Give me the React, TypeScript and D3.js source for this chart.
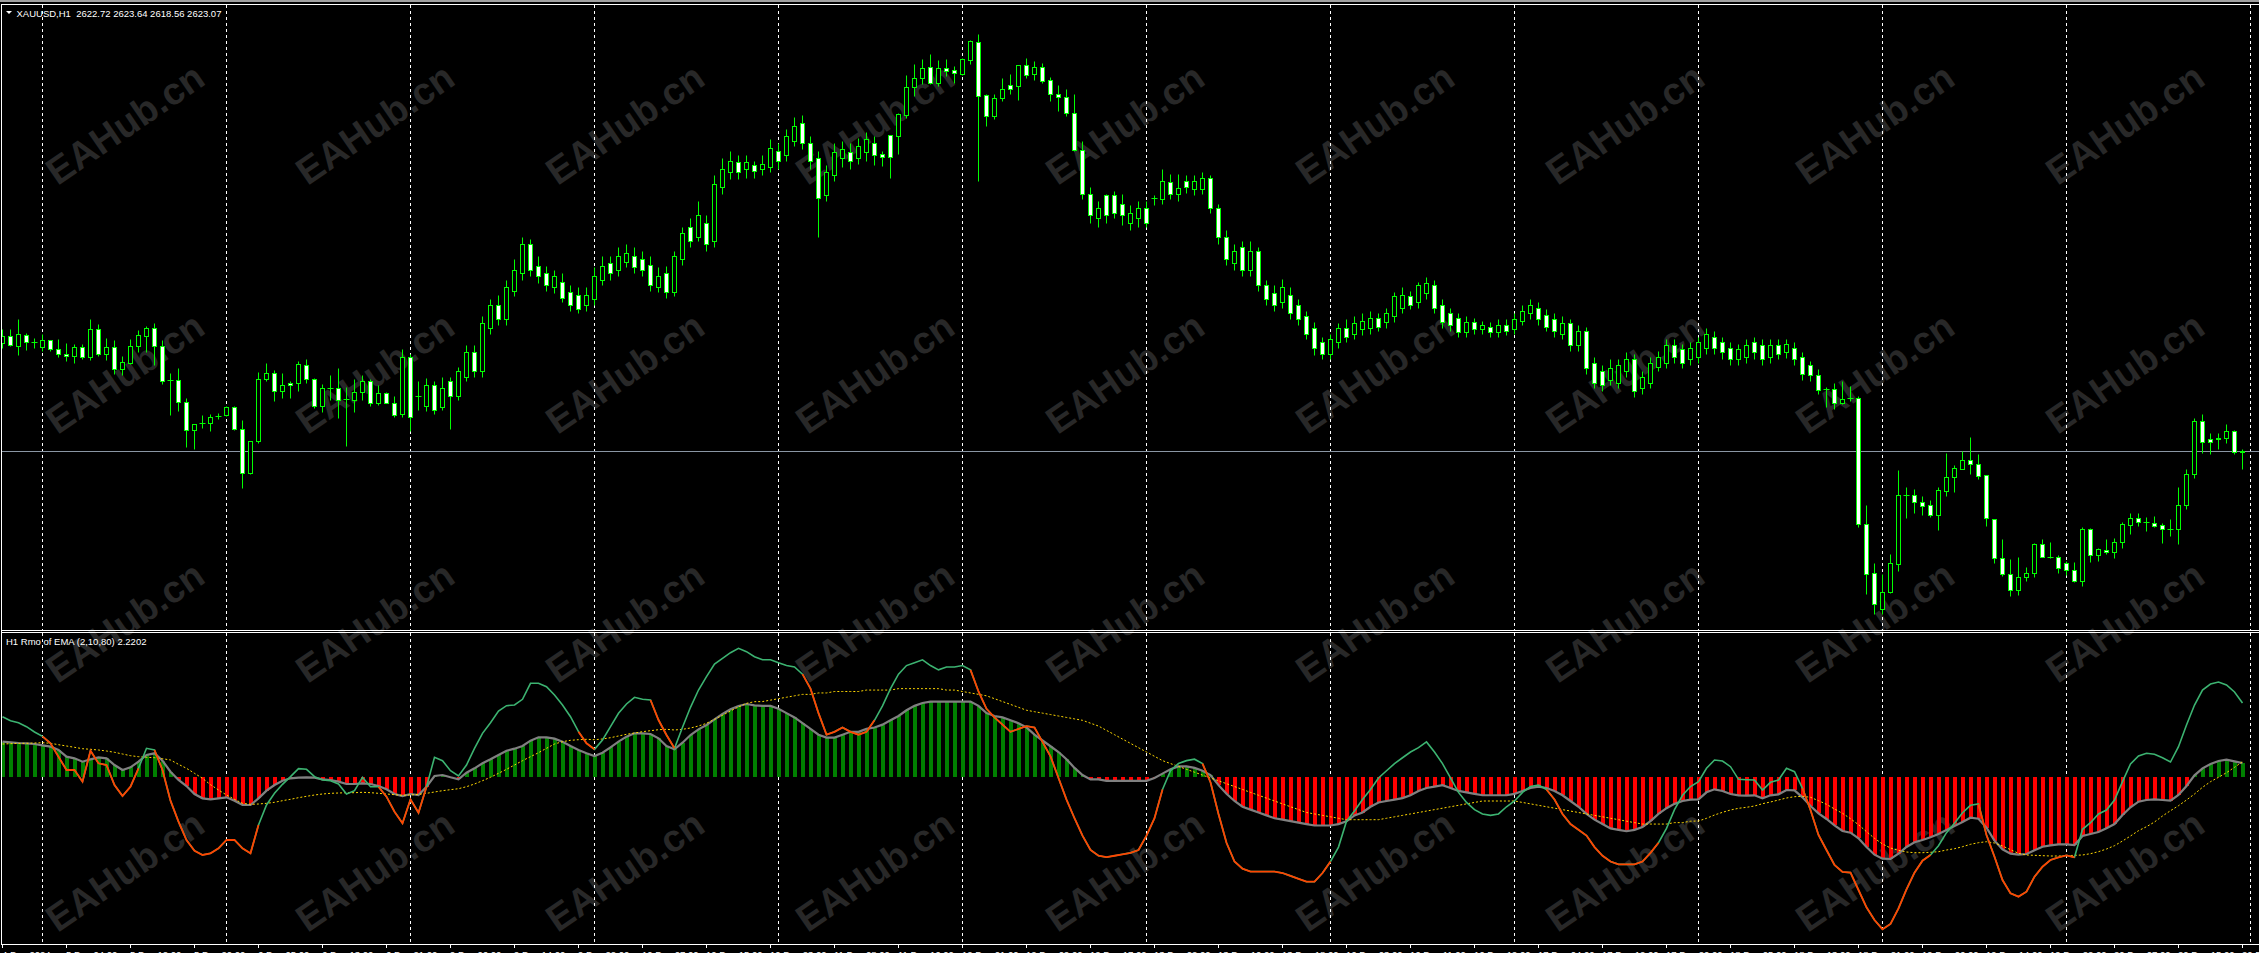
import React from "react";
import * as d3 from "d3";

const W = 2259;
const H = 953;

// ---- XAUUSD H1 candles (bar 0 = 4 Dec 2024 19:00) ----
const barOpen = [
  2650.1, 2651.7, 2649.2, 2652.1, 2650.3, 2649.0, 2650.8, 2648.6, 2647.3, 2646.7,
  2649.1, 2646.5, 2653.6, 2647.3, 2649.1, 2643.6, 2645.1, 2649.2, 2651.7, 2653.8,
  2649.3, 2640.7, 2640.7, 2635.3, 2628.2, 2630.1, 2629.9, 2631.7, 2631.9, 2634.1,
  2628.6, 2617.6, 2625.5, 2640.9, 2642.6, 2638.0, 2640.1, 2640.0, 2644.6, 2641.1,
  2634.2, 2638.8, 2638.8, 2635.9, 2635.7, 2637.8, 2640.6, 2635.1, 2637.6, 2635.1,
  2632.2, 2646.6, 2636.8, 2634.3, 2639.4, 2634.0, 2640.4, 2636.8, 2641.5, 2647.7,
  2643.0, 2653.8, 2659.5, 2655.9, 2663.1, 2667.5, 2674.7, 2669.3, 2667.5, 2663.9,
  2665.3, 2662.8, 2662.1, 2659.5, 2661.0, 2665.7, 2670.0, 2668.2, 2670.3, 2671.8,
  2671.1, 2669.6, 2663.9, 2667.5, 2662.8, 2671.1, 2679.0, 2676.5, 2680.1, 2675.4,
  2689.1, 2692.7, 2695.2, 2693.4, 2694.5, 2693.4, 2694.1, 2698.1, 2697.0, 2700.6,
  2704.9, 2699.9, 2696.3, 2686.9, 2691.9, 2696.3, 2697.7, 2696.3, 2697.7, 2699.9,
  2697.2, 2701.9, 2701.7, 2707.0, 2714.1, 2716.3, 2719.1, 2715.1, 2718.8, 2718.2,
  2717.2, 2720.7, 2725.3, 2711.9, 2706.7, 2711.2, 2714.4, 2714.2, 2719.4, 2717.2,
  2719.1, 2715.7, 2712.3, 2711.6, 2707.6, 2698.2, 2687.3, 2681.2, 2687.1, 2687.1,
  2684.7, 2680.1, 2681.2, 2683.7, 2686.2, 2685.9, 2690.2, 2687.2, 2690.5, 2688.4,
  2688.4, 2691.2, 2683.7, 2676.5, 2670.0, 2673.9, 2668.2, 2672.9, 2664.6, 2662.4,
  2660.3, 2662.1, 2659.5, 2656.7, 2653.8, 2650.2, 2647.3, 2650.2, 2653.8, 2652.3,
  2653.4, 2653.8, 2656.3, 2655.2, 2656.7, 2658.8, 2661.7, 2660.3, 2662.4, 2664.6,
  2659.5, 2657.4, 2656.3, 2652.7, 2655.2, 2653.4, 2654.1, 2652.7, 2654.5, 2653.4,
  2655.6, 2657.4, 2658.8, 2657.0, 2655.9, 2652.3, 2654.9, 2649.5, 2653.1, 2645.1,
  2643.0, 2640.8, 2640.1, 2643.0, 2645.9, 2638.7, 2640.1, 2644.0, 2645.1, 2649.5,
  2648.4, 2645.9, 2646.6, 2648.7, 2651.6, 2650.2, 2648.7, 2645.9, 2646.6, 2650.2,
  2649.5, 2646.6, 2649.5, 2647.7, 2648.7, 2646.6, 2644.5, 2642.0, 2638.4, 2638.6,
  2635.1, 2636.3, 2636.3, 2604.7, 2592.6, 2583.6, 2587.7, 2594.8, 2612.0, 2612.0,
  2610.3, 2609.4, 2607.0, 2613.0, 2616.5, 2618.6, 2620.7, 2619.7, 2616.9, 2606.1,
  2596.3, 2592.3, 2588.2, 2591.6, 2592.6, 2599.7, 2596.5, 2596.6, 2594.9, 2593.2,
  2590.5, 2603.6, 2597.0, 2598.2, 2597.7, 2600.2, 2604.5, 2606.3, 2605.2, 2605.1,
  2604.4, 2603.6, 2603.6, 2609.5, 2617.3, 2630.5, 2625.9, 2625.9, 2626.3, 2628.0,
  2622.72,
];
const barHigh = [
  2653.4, 2653.4, 2655.9, 2652.6, 2651.3, 2652.2, 2650.8, 2651.1, 2650.1, 2649.7,
  2649.8, 2655.9, 2654.7, 2651.3, 2650.7, 2646.7, 2650.9, 2653.2, 2654.2, 2654.9,
  2650.7, 2642.4, 2643.7, 2636.2, 2629.8, 2631.9, 2632.2, 2632.4, 2634.2, 2634.2,
  2630.7, 2625.6, 2642.8, 2644.9, 2643.2, 2642.6, 2640.5, 2645.5, 2645.9, 2641.3,
  2639.7, 2641.9, 2643.8, 2639.1, 2640.9, 2641.9, 2640.9, 2639.4, 2637.8, 2636.7,
  2648.4, 2647.3, 2640.4, 2641.2, 2640.4, 2641.5, 2641.5, 2644.0, 2649.5, 2649.5,
  2656.7, 2661.0, 2662.1, 2665.7, 2671.1, 2676.5, 2676.1, 2671.8, 2669.3, 2668.2,
  2667.5, 2664.6, 2663.9, 2663.9, 2668.9, 2671.8, 2671.8, 2673.9, 2674.7, 2673.9,
  2672.9, 2671.8, 2668.9, 2669.3, 2672.9, 2679.0, 2681.2, 2685.5, 2681.9, 2691.9,
  2696.3, 2698.1, 2697.0, 2697.0, 2695.6, 2697.0, 2701.0, 2699.9, 2703.5, 2706.4,
  2707.1, 2701.7, 2698.1, 2694.5, 2699.9, 2700.6, 2699.9, 2701.3, 2702.8, 2701.7,
  2698.0, 2701.9, 2707.6, 2716.9, 2719.7, 2720.9, 2722.2, 2720.7, 2721.1, 2719.2,
  2721.3, 2725.7, 2727.2, 2712.3, 2712.3, 2716.2, 2717.2, 2719.4, 2721.3, 2720.5,
  2719.9, 2716.6, 2714.4, 2713.4, 2712.2, 2700.5, 2689.0, 2685.5, 2687.3, 2688.0,
  2687.3, 2684.4, 2685.5, 2685.5, 2687.0, 2693.4, 2692.2, 2692.2, 2691.9, 2691.9,
  2692.7, 2691.9, 2684.7, 2678.3, 2674.7, 2675.4, 2675.4, 2673.9, 2665.7, 2664.6,
  2666.0, 2663.9, 2661.0, 2658.1, 2655.2, 2651.6, 2652.3, 2654.9, 2655.9, 2656.7,
  2657.4, 2658.1, 2657.4, 2658.8, 2662.8, 2663.9, 2663.1, 2665.3, 2666.4, 2665.7,
  2661.0, 2658.8, 2657.4, 2656.7, 2656.3, 2655.6, 2655.2, 2655.9, 2655.9, 2657.4,
  2659.5, 2661.0, 2660.3, 2658.5, 2657.4, 2656.7, 2655.9, 2654.5, 2654.1, 2646.6,
  2644.4, 2645.9, 2645.9, 2647.7, 2647.3, 2643.0, 2646.6, 2648.0, 2650.9, 2650.9,
  2649.8, 2650.2, 2651.6, 2653.8, 2653.1, 2651.6, 2650.2, 2649.8, 2650.9, 2651.6,
  2650.9, 2650.9, 2650.9, 2650.9, 2650.2, 2647.7, 2645.5, 2643.5, 2638.9, 2639.9,
  2640.5, 2639.2, 2636.7, 2609.4, 2594.9, 2592.2, 2597.2, 2618.2, 2614.0, 2613.4,
  2611.7, 2610.7, 2614.1, 2622.6, 2619.4, 2623.0, 2626.6, 2622.2, 2616.9, 2606.1,
  2600.9, 2595.9, 2596.6, 2594.1, 2599.9, 2600.9, 2600.3, 2597.0, 2595.5, 2595.3,
  2604.0, 2603.8, 2598.8, 2600.9, 2601.3, 2605.3, 2607.6, 2607.6, 2606.6, 2606.7,
  2604.9, 2606.1, 2614.1, 2618.4, 2631.3, 2632.2, 2627.6, 2627.6, 2629.7, 2628.2,
  2623.64,
];
const barLow = [
  2648.8, 2649.2, 2646.9, 2648.2, 2648.7, 2648.0, 2648.0, 2646.6, 2645.5, 2645.1,
  2646.1, 2645.7, 2646.7, 2645.7, 2642.3, 2642.0, 2644.7, 2647.7, 2647.7, 2644.4,
  2639.7, 2631.9, 2633.0, 2624.0, 2623.4, 2628.7, 2628.0, 2631.1, 2631.7, 2628.2,
  2613.7, 2617.3, 2624.9, 2640.5, 2635.5, 2636.3, 2636.2, 2638.0, 2640.1, 2633.8,
  2632.7, 2635.7, 2631.3, 2624.2, 2632.7, 2635.7, 2634.2, 2634.4, 2634.9, 2631.5,
  2631.4, 2627.9, 2633.3, 2632.9, 2632.2, 2633.3, 2628.6, 2635.8, 2640.4, 2641.5,
  2641.5, 2652.3, 2654.5, 2654.5, 2661.7, 2665.7, 2666.7, 2664.9, 2663.1, 2662.4,
  2660.3, 2658.1, 2657.4, 2658.1, 2659.5, 2664.6, 2665.7, 2666.7, 2668.9, 2667.5,
  2666.7, 2663.1, 2662.8, 2661.3, 2661.7, 2669.6, 2673.9, 2675.4, 2672.9, 2673.9,
  2687.3, 2690.9, 2690.9, 2691.2, 2691.2, 2691.9, 2692.7, 2693.4, 2695.6, 2699.2,
  2698.4, 2693.4, 2676.5, 2685.5, 2690.5, 2694.1, 2693.4, 2694.8, 2695.6, 2694.5,
  2694.2, 2691.3, 2697.2, 2706.2, 2711.7, 2714.7, 2714.7, 2714.2, 2716.7, 2715.1,
  2716.9, 2719.7, 2690.5, 2704.2, 2705.9, 2710.5, 2712.2, 2710.7, 2716.2, 2715.7,
  2714.9, 2710.5, 2708.0, 2706.7, 2698.0, 2686.0, 2680.1, 2679.0, 2680.1, 2681.2,
  2679.4, 2678.3, 2679.0, 2679.0, 2684.5, 2684.7, 2685.9, 2685.5, 2687.6, 2686.9,
  2687.3, 2682.6, 2674.7, 2669.6, 2668.2, 2666.7, 2666.7, 2663.1, 2659.5, 2658.1,
  2658.8, 2655.9, 2654.5, 2650.9, 2646.9, 2645.9, 2645.9, 2648.7, 2650.2, 2650.9,
  2652.0, 2652.3, 2653.1, 2653.8, 2655.2, 2657.4, 2658.5, 2658.8, 2661.0, 2657.4,
  2653.8, 2653.1, 2651.6, 2651.6, 2652.3, 2652.3, 2651.6, 2651.6, 2652.0, 2652.3,
  2654.5, 2655.9, 2654.5, 2653.1, 2651.6, 2650.9, 2648.0, 2648.0, 2642.3, 2638.7,
  2637.9, 2639.4, 2638.7, 2641.5, 2636.5, 2637.2, 2638.7, 2643.0, 2643.7, 2645.1,
  2643.7, 2644.4, 2645.1, 2647.3, 2647.3, 2645.9, 2644.4, 2644.4, 2645.1, 2645.9,
  2644.4, 2645.1, 2645.9, 2646.2, 2644.4, 2640.8, 2640.5, 2637.2, 2634.1, 2633.4,
  2634.7, 2635.5, 2604.1, 2587.2, 2582.2, 2582.2, 2587.6, 2593.0, 2606.3, 2607.6,
  2606.9, 2606.5, 2603.2, 2611.7, 2612.7, 2618.4, 2617.2, 2616.1, 2604.2, 2595.1,
  2591.7, 2586.7, 2587.0, 2590.5, 2591.5, 2596.6, 2596.2, 2592.4, 2591.9, 2590.2,
  2589.2, 2595.2, 2595.5, 2597.2, 2596.2, 2598.8, 2602.2, 2604.2, 2603.0, 2604.1,
  2600.1, 2601.7, 2599.7, 2608.4, 2616.2, 2622.6, 2622.2, 2623.4, 2625.1, 2622.2,
  2618.56,
];
const barClose = [
  2651.7, 2649.4, 2652.2, 2650.3, 2650.3, 2650.7, 2648.6, 2647.3, 2646.7, 2649.1,
  2646.6, 2653.6, 2647.3, 2649.1, 2643.6, 2645.2, 2649.3, 2651.9, 2653.7, 2649.2,
  2640.5, 2640.7, 2635.2, 2628.2, 2629.8, 2630.1, 2631.6, 2631.7, 2634.1, 2628.4,
  2617.6, 2625.6, 2641.1, 2642.6, 2638.0, 2639.5, 2639.5, 2644.7, 2641.1, 2634.2,
  2638.8, 2638.8, 2635.7, 2635.9, 2637.8, 2640.6, 2635.1, 2637.6, 2635.1, 2632.0,
  2646.6, 2631.4, 2636.8, 2639.4, 2633.3, 2638.7, 2636.8, 2643.0, 2647.7, 2643.0,
  2654.9, 2659.5, 2655.9, 2663.9, 2668.2, 2674.7, 2668.2, 2666.7, 2664.6, 2666.7,
  2661.3, 2659.5, 2658.5, 2662.1, 2666.7, 2669.3, 2667.5, 2671.8, 2672.5, 2668.9,
  2668.2, 2664.6, 2666.7, 2662.8, 2671.8, 2677.5, 2675.4, 2681.9, 2674.7, 2689.8,
  2693.4, 2695.6, 2692.7, 2695.2, 2693.0, 2694.8, 2698.8, 2695.6, 2701.7, 2704.2,
  2699.9, 2695.6, 2686.2, 2692.7, 2697.7, 2698.4, 2695.6, 2699.2, 2701.0, 2697.0,
  2696.6, 2696.6, 2707.2, 2714.1, 2716.3, 2718.8, 2715.1, 2718.8, 2718.0, 2717.6,
  2721.1, 2725.5, 2711.7, 2706.7, 2711.3, 2713.6, 2713.6, 2719.4, 2717.0, 2719.1,
  2715.5, 2712.3, 2711.6, 2707.6, 2698.2, 2687.3, 2681.9, 2683.7, 2681.9, 2682.6,
  2681.9, 2682.6, 2683.7, 2680.1, 2686.2, 2690.5, 2687.3, 2688.8, 2689.1, 2690.5,
  2691.2, 2683.7, 2676.5, 2671.1, 2672.9, 2668.2, 2672.9, 2664.6, 2661.0, 2659.5,
  2663.9, 2657.4, 2655.9, 2652.3, 2648.7, 2647.3, 2650.9, 2653.8, 2651.6, 2654.9,
  2655.6, 2656.3, 2654.1, 2657.4, 2661.7, 2662.1, 2659.5, 2664.6, 2664.9, 2658.8,
  2655.2, 2654.5, 2652.7, 2655.2, 2653.4, 2654.5, 2652.7, 2654.5, 2653.1, 2655.9,
  2658.1, 2659.5, 2655.9, 2654.1, 2653.1, 2654.9, 2649.5, 2653.1, 2643.7, 2640.1,
  2639.4, 2643.7, 2644.4, 2645.9, 2637.9, 2641.5, 2645.1, 2646.6, 2649.5, 2646.6,
  2645.1, 2648.7, 2650.2, 2652.3, 2648.7, 2647.7, 2645.9, 2648.4, 2649.5, 2647.7,
  2645.9, 2649.5, 2647.3, 2649.8, 2645.9, 2642.3, 2642.0, 2638.2, 2638.4, 2635.1,
  2636.1, 2636.3, 2604.7, 2592.3, 2584.8, 2587.8, 2595.1, 2611.9, 2612.0, 2610.3,
  2609.2, 2607.0, 2613.2, 2616.6, 2618.7, 2620.7, 2619.7, 2616.7, 2606.3, 2596.3,
  2592.3, 2588.2, 2591.6, 2592.6, 2599.7, 2596.6, 2596.5, 2593.8, 2593.2, 2590.5,
  2603.6, 2597.0, 2598.4, 2597.7, 2600.3, 2604.8, 2606.3, 2605.2, 2605.2, 2604.2,
  2603.6, 2603.6, 2609.5, 2617.3, 2630.5, 2625.3, 2625.3, 2626.3, 2628.0, 2622.8,
  2623.07,
];

// ---- Rmo of EMA (2,10,80) indicator ----
const rmoHist = [
  5.65, 5.55, 5.44, 5.39, 5.28, 5.07, 4.85, 4.32, 3.25, 2.99,
  2.45, 2.83, 3.15, 2.99, 1.92, 1.12, 1.55, 2.45, 3.52, 3.79,
  2.61, 0.85, -0.48, -1.44, -2.72, -3.41, -3.57, -3.41, -3.25, -3.79,
  -4.48, -4.48, -3.41, -2.19, -1.28, -0.59, -0.21, -0.10, -0.05, -0.10,
  -0.37, -0.48, -0.75, -1.12, -1.12, -1.01, -1.12, -1.44, -1.97, -2.72,
  -3.04, -2.72, -2.88, -1.55, 0.16, 0.32, -0.05, -0.37, 0.69, 1.39,
  2.19, 2.83, 3.52, 4.21, 4.53, 4.96, 5.81, 6.35, 6.35, 6.13,
  5.65, 4.96, 4.32, 3.79, 3.36, 3.89, 4.75, 5.65, 6.45, 6.99,
  6.99, 6.88, 6.19, 4.96, 4.43, 5.49, 6.72, 7.63, 8.32, 9.23,
  10.08, 10.83, 11.36, 11.68, 11.47, 11.38, 11.38, 10.91, 10.22, 9.53,
  8.61, 7.69, 6.77, 6.30, 6.30, 6.77, 7.23, 7.23, 7.69, 7.92,
  8.38, 9.07, 9.76, 10.68, 11.38, 11.84, 12.07, 12.07, 12.07, 12.07,
  12.07, 12.07, 11.38, 10.22, 9.76, 9.53, 9.07, 8.61, 7.92, 6.77,
  5.84, 4.92, 4.00, 2.85, 1.46, 0.31, -0.38, -0.38, -0.61, -0.61,
  -0.61, -0.61, -0.61, -0.61, -0.15, 0.54, 1.23, 1.69, 1.69, 1.46,
  1.00, 0.31, -1.30, -2.69, -3.84, -4.76, -5.22, -5.68, -6.14, -6.60,
  -6.83, -7.07, -7.30, -7.53, -7.76, -7.76, -7.76, -7.53, -7.07, -6.14,
  -5.68, -4.76, -4.07, -3.84, -3.61, -3.38, -2.92, -2.23, -1.76, -1.53,
  -1.30, -1.76, -2.23, -2.46, -2.69, -2.92, -2.92, -2.92, -2.92, -2.69,
  -2.23, -1.76, -1.53, -1.76, -2.23, -2.92, -3.84, -4.76, -5.91, -6.83,
  -7.53, -8.22, -8.45, -8.68, -8.45, -7.99, -7.07, -5.91, -4.99, -4.30,
  -3.84, -3.61, -3.57, -2.45, -1.97, -2.24, -2.72, -2.93, -2.99, -2.93,
  -3.41, -2.93, -2.77, -2.08, -2.13, -3.25, -4.64, -5.81, -6.72, -7.73,
  -8.64, -8.91, -9.81, -11.20, -12.43, -13.07, -13.12, -12.27, -11.20, -10.45,
  -10.08, -9.65, -9.12, -8.48, -7.84, -7.20, -6.51, -6.67, -8.11, -10.19,
  -11.57, -12.27, -12.43, -12.32, -11.73, -11.15, -10.93, -10.77, -10.77, -10.88,
  -9.44, -9.12, -8.80, -8.21, -7.52, -6.08, -4.85, -3.95, -3.68, -3.57,
  -3.68, -3.79, -2.88, -1.44, 0.27, 1.39, 2.08, 2.56, 2.77, 2.51,
  2.2202,
];
const rmoLine = [
  9.65, 9.01, 8.69, 8.05, 7.20, 6.51, 5.39, 3.25, 1.12, 1.12,
  -0.75, 4.21, 2.19, 1.92, -1.28, -3.04, -1.55, 1.39, 4.59, 4.32,
  1.12, -3.79, -7.15, -10.08, -11.79, -12.48, -12.21, -11.41, -10.08, -10.08,
  -11.41, -12.21, -7.68, -4.48, -2.61, -1.17, 0.05, 1.33, 1.23, 0.05,
  -0.48, -0.59, -1.12, -2.72, -2.19, -0.05, -1.55, -1.55, -3.15, -5.55,
  -7.41, -3.57, -5.71, -1.55, 3.15, 2.61, 1.01, 0.16, 1.92, 4.59,
  6.99, 8.69, 10.56, 11.41, 11.52, 12.43, 14.99, 14.99, 14.45, 13.12,
  11.52, 9.65, 7.25, 5.39, 4.43, 5.92, 8.05, 10.19, 11.68, 12.75,
  12.43, 12.32, 9.12, 6.72, 4.59, 7.95, 11.15, 13.92, 16.05, 18.08,
  18.99, 19.89, 20.59, 20.05, 19.25, 18.75, 18.75, 18.29, 17.83, 17.60,
  16.45, 14.14, 10.22, 6.77, 7.23, 7.92, 7.23, 6.77, 7.23, 9.07,
  11.38, 14.14, 16.45, 17.83, 18.29, 18.75, 17.83, 17.14, 17.60, 17.60,
  17.83, 17.14, 13.68, 10.91, 9.53, 8.38, 7.23, 7.69, 8.15, 7.92,
  5.61, 3.31, -0.15, -3.61, -6.60, -9.37, -11.68, -12.60, -12.83, -12.60,
  -12.37, -12.14, -11.68, -9.37, -6.60, -1.99, 1.00, 2.15, 2.62, 2.85,
  2.15, -0.84, -5.91, -10.52, -13.52, -14.67, -15.13, -15.13, -15.13, -15.13,
  -15.36, -15.82, -16.29, -16.75, -16.75, -15.36, -13.52, -11.21, -7.07, -5.45,
  -3.61, -1.99, -0.15, 1.00, 2.15, 3.08, 4.00, 4.69, 5.61, 4.00,
  2.15, -0.15, -2.46, -4.07, -5.22, -5.91, -6.14, -5.91, -4.76, -3.84,
  -2.46, -1.53, -1.30, -1.99, -3.61, -5.91, -7.53, -8.45, -9.37, -11.21,
  -12.60, -13.52, -13.98, -13.98, -13.98, -13.52, -12.14, -10.52, -8.22, -5.22,
  -2.92, -1.53, -0.75, 1.39, 2.72, 2.56, 1.65, -0.37, -0.43, -0.48,
  -2.08, -0.85, -0.48, 1.39, 0.85, -1.81, -5.28, -9.28, -11.68, -14.08,
  -15.20, -15.30, -18.08, -20.85, -22.88, -24.37, -23.52, -21.01, -17.97, -15.30,
  -13.39, -12.48, -10.99, -8.91, -7.41, -5.71, -4.53, -4.32, -9.28, -12.75,
  -16.48, -18.61, -19.14, -18.35, -15.95, -14.35, -13.28, -12.85, -12.53, -12.85,
  -8.37, -7.31, -5.92, -5.28, -3.68, -0.75, 2.08, 3.36, 3.79, 3.63,
  3.09, 2.40, 4.85, 8.32, 11.52, 13.92, 14.88, 15.20, 14.72, 13.60,
  11.84,
];
const rmoSignal = [
  5.28, 5.33, 5.39, 5.39, 5.44, 5.49, 5.39, 5.17, 4.96, 4.75,
  4.53, 4.43, 4.32, 4.16, 3.95, 3.68, 3.41, 3.25, 3.15, 3.09,
  2.93, 2.72, 2.03, 1.39, 0.59, -0.21, -1.23, -2.08, -2.88, -3.57,
  -4.21, -4.37, -4.32, -4.21, -4.05, -3.79, -3.57, -3.31, -3.09, -2.88,
  -2.72, -2.61, -2.56, -2.51, -2.51, -2.45, -2.51, -2.61, -2.72, -2.83,
  -2.93, -2.88, -2.77, -2.61, -2.40, -2.19, -2.03, -1.87, -1.55, -1.12,
  -0.59, -0.05, 0.59, 1.23, 1.92, 2.61, 3.25, 3.89, 4.59, 5.28,
  5.65, 5.87, 5.97, 6.03, 5.97, 6.08, 6.29, 6.56, 6.83, 7.04,
  7.25, 7.41, 7.57, 7.63, 7.52, 7.63, 7.84, 8.16, 8.59, 9.23,
  9.87, 10.56, 11.20, 11.79, 12.05, 12.07, 12.30, 12.53, 12.76, 12.99,
  13.22, 13.22, 13.45, 13.45, 13.68, 13.68, 13.68, 13.68, 13.91, 13.91,
  13.91, 13.91, 14.14, 14.14, 14.14, 14.14, 14.14, 14.14, 13.91, 13.91,
  13.68, 13.45, 13.22, 12.99, 12.53, 12.07, 11.61, 11.15, 10.68, 10.45,
  10.22, 9.99, 9.76, 9.53, 9.30, 9.07, 8.61, 8.15, 7.46, 6.77,
  6.07, 5.38, 4.69, 4.00, 3.31, 2.62, 2.15, 1.69, 1.23, 0.77,
  0.31, -0.15, -0.61, -1.07, -1.53, -1.99, -2.46, -2.92, -3.38, -3.84,
  -4.30, -4.76, -5.22, -5.68, -5.91, -6.14, -6.37, -6.60, -6.83, -6.83,
  -6.83, -6.83, -6.83, -6.60, -6.37, -6.14, -5.91, -5.68, -5.45, -5.22,
  -4.99, -4.76, -4.53, -4.30, -4.07, -3.84, -3.84, -3.84, -3.84, -3.84,
  -4.07, -4.30, -4.53, -4.76, -4.99, -5.22, -5.45, -5.68, -5.91, -6.14,
  -6.37, -6.60, -6.83, -7.07, -7.30, -7.53, -7.53, -7.53, -7.53, -7.30,
  -7.30, -7.07, -7.04, -6.61, -6.08, -5.65, -5.28, -5.01, -4.85, -4.64,
  -4.27, -4.00, -3.68, -3.36, -3.15, -3.09, -3.25, -3.79, -4.37, -5.12,
  -5.81, -6.67, -7.63, -8.75, -9.81, -10.72, -11.36, -11.73, -12.00, -12.11,
  -12.11, -12.05, -11.95, -11.68, -11.47, -11.15, -10.77, -10.51, -10.35, -10.56,
  -11.04, -11.63, -12.21, -12.48, -12.53, -12.59, -12.64, -12.64, -12.59, -12.53,
  -12.48, -12.27, -11.95, -11.52, -10.99, -10.24, -9.44, -8.59, -7.95, -7.20,
  -6.24, -5.39, -4.59, -3.68, -2.72, -1.65, -0.75, -0.05, 0.69, 1.55,
  2.45,
];
// bar ranges where the Rmo line is drawn in its "down" colour
const downRanges = [
  [5, 17], [19, 32], [47, 53], [72, 74], [81, 84], [100, 109],
  [121, 145], [150, 166], [193, 207], [225, 241], [247, 259],
];
// first bar of each trading day (vertical grid)
const dayStarts = [5, 28, 51, 74, 97, 120, 143, 166, 189, 212, 235, 258, 281];
// time axis labels, one every 8 bars
const timeLabels = [
  "4 Dec 2024", "5 Dec 04:00", "5 Dec 12:00", "5 Dec 20:00", "6 Dec 05:00", "6 Dec 13:00",
  "6 Dec 21:00", "9 Dec 06:00", "9 Dec 14:00", "9 Dec 22:00", "10 Dec 07:00", "10 Dec 15:00",
  "10 Dec 23:00", "11 Dec 08:00", "11 Dec 16:00", "12 Dec 01:00", "12 Dec 09:00", "12 Dec 17:00",
  "13 Dec 02:00", "13 Dec 10:00", "13 Dec 18:00", "16 Dec 03:00", "16 Dec 11:00", "16 Dec 19:00",
  "17 Dec 04:00", "17 Dec 12:00", "17 Dec 20:00", "18 Dec 05:00", "18 Dec 13:00", "18 Dec 21:00",
  "19 Dec 06:00", "19 Dec 14:00", "19 Dec 22:00", "20 Dec 07:00", "20 Dec 15:00", "20 Dec 23:00",
];
const labelStep = 8;

const FONT = "'Liberation Sans', Arial, sans-serif";
const LIME = "#00ff00";

export default function App() {
  const n = barClose.length;
  const x = d3.scaleLinear().domain([0, 1]).range([2.5, 10.5]);
  const y = d3.scaleLinear().domain([2580, 2730]).range([623.6, 23.6]);
  const yi = d3.scaleLinear().domain([0, 10]).range([777, 714.5]);
  const snap = (v: number) => Math.round(v - 0.5) + 0.5;

  const lineGen = d3
    .line<number>()
    .x((_, i) => x(i))
    .y((v) => yi(v));
  const segGen = d3
    .line<[number, number]>()
    .x((d) => x(d[0]))
    .y((d) => yi(d[1]));

  const candles = d3.range(n).map((i) => {
    const o = barOpen[i], c = barClose[i], h = barHigh[i], l = barLow[i];
    const cx = x(i);
    const top = snap(y(Math.max(o, c)));
    const bot = snap(y(Math.min(o, c)));
    const bull = c > o;
    return (
      <g key={i}>
        <line x1={cx} x2={cx} y1={snap(y(h))} y2={snap(y(l))} stroke={LIME} strokeWidth={1} />
        {bot - top < 1 ? (
          <line x1={cx - 3} x2={cx + 3} y1={top} y2={top} stroke={LIME} strokeWidth={1} />
        ) : (
          <rect x={cx - 2} y={top} width={4} height={bot - top} fill={bull ? "#000" : "#fff"} stroke={LIME} strokeWidth={1} />
        )}
      </g>
    );
  });

  const hist = rmoHist.map((v, i) => {
    const y0 = yi(0), y1 = yi(v);
    return (
      <rect key={i} x={x(i) - 1.5} y={Math.min(y0, y1)} width={4} height={Math.abs(y1 - y0)}
        fill={v >= 0 ? "#008000" : "#ff0000"} shapeRendering="crispEdges" />
    );
  });

  const wmCols = d3.range(9).map((k) => 125 + 250 * k);
  const wmRows = d3.range(4).map((k) => 124 + 249 * k);

  const last = n - 1;
  const header = `XAUUSD,H1  ${barOpen[last].toFixed(2)} ${barHigh[last].toFixed(2)} ${barLow[last].toFixed(2)} ${barClose[last].toFixed(2)}`;
  const bidY = snap(y(barClose[last]));

  return (
    <>
      <style>{`html,body{margin:0;padding:0;overflow:hidden;background:#000}`}</style>
      <svg width={W} height={H} style={{ position: "absolute", left: 0, top: 0, display: "block", background: "#000" }}>
        <defs>
          <clipPath id="mainClip"><rect x={2} y={5} width={W} height={625} /></clipPath>
          <clipPath id="indClip"><rect x={2} y={633} width={W} height={311} /></clipPath>
        </defs>
        <rect x={0} y={0} width={W} height={H} fill="#000" />
        {/* top strip */}
        <rect x={0} y={0} width={W} height={2} fill="#a0a0a0" />

        {/* watermarks */}
        <g fontFamily={FONT} fontWeight="bold" fontSize={38} fill="#282828">
          {wmRows.map((ry) =>
            wmCols.map((rx) => (
              <text key={`${rx}-${ry}`} x={0} y={0} textAnchor="middle" dominantBaseline="central"
                transform={`translate(${rx},${ry}) rotate(-34.5)`}>EAHub.cn</text>
            ))
          )}
        </g>

        {/* grid */}
        <g stroke="#ffffff" strokeWidth={1} strokeDasharray="3,3">
          {dayStarts.map((d) => (
            <g key={d}>
              <line x1={x(d)} x2={x(d)} y1={5} y2={630} />
              <line x1={x(d)} x2={x(d)} y1={633} y2={944} />
            </g>
          ))}
        </g>

        {/* main window */}
        <g clipPath="url(#mainClip)">
          <line x1={2} x2={W} y1={bidY} y2={bidY} stroke="#8a96a4" strokeWidth={1} />
          {candles}
        </g>

        {/* indicator window */}
        <g clipPath="url(#indClip)">
          {hist}
          <path d={lineGen(rmoHist) || ""} fill="none" stroke="#808080" strokeWidth={2.2} />
          <path d={lineGen(rmoSignal) || ""} fill="none" stroke="#ffd700" strokeWidth={1} strokeDasharray="2,2" />
          <path d={lineGen(rmoLine) || ""} fill="none" stroke="#3cb371" strokeWidth={1.6} />
          {downRanges.map(([a, b]) => (
            <path key={a} d={segGen(d3.range(a, b + 1).map((i) => [i, rmoLine[i]] as [number, number])) || ""}
              fill="none" stroke="#ff4500" strokeWidth={1.8} />
          ))}
        </g>

        {/* frames */}
        <g stroke="#ffffff" strokeWidth={1} shapeRendering="crispEdges">
          <line x1={1.5} x2={W} y1={4.5} y2={4.5} />
          <line x1={1.5} x2={1.5} y1={4} y2={945} />
          <line x1={1.5} x2={W} y1={630.5} y2={630.5} />
          <line x1={1.5} x2={W} y1={632.5} y2={632.5} />
          <line x1={1.5} x2={W} y1={944.5} y2={944.5} />
          {timeLabels.map((_, k) => (
            <line key={k} x1={x(k * labelStep)} x2={x(k * labelStep)} y1={944} y2={948} />
          ))}
        </g>

        {/* texts */}
        <path d="M6,11 L12,11 L9,14 Z" fill="#ffffff" />
        <text x={16.5} y={16.5} fill="#ffffff" fontFamily={FONT} fontSize={9.5} style={{ whiteSpace: "pre" }}>{header}</text>
        <text x={6} y={645} fill="#ffffff" fontFamily={FONT} fontSize={9.5}>
          {`H1 Rmo of EMA (2,10,80) ${rmoHist[last].toFixed(4)}`}
        </text>
        <g fill="#ffffff" fontFamily={FONT} fontSize={9.5}>
          {timeLabels.map((t, k) => (
            <text key={k} x={x(k * labelStep) - 0.5} y={958}>{t}</text>
          ))}
        </g>
      </svg>
    </>
  );
}
